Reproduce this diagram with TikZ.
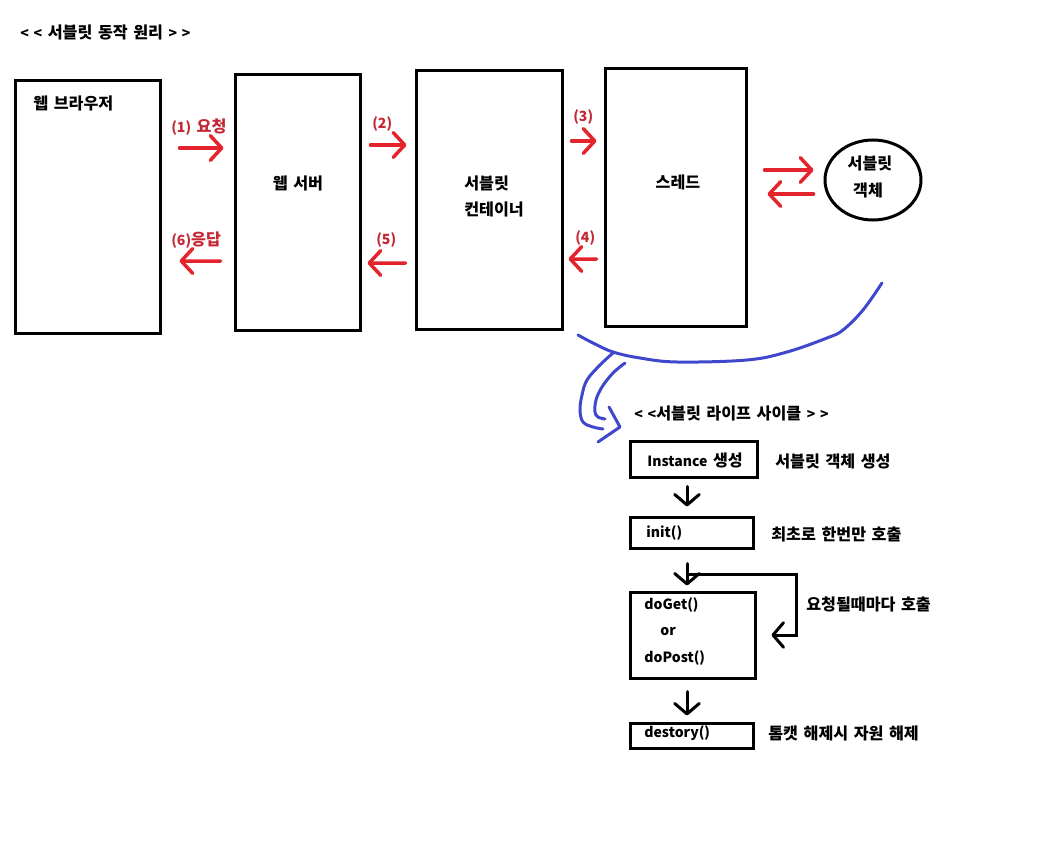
\documentclass[tikz,border=0pt]{standalone}
\usepackage{fontspec}
\setmainfont{Noto Sans CJK KR}[Ligatures=TeXOff, WordSpace=1.5]
\usetikzlibrary{arrows.meta,shapes.geometric,calc}

\newdimen\pxUnit \pxUnit=0.02cm
\newcommand\lat[1]{{\fontsize{8}{10}\selectfont #1}}
\definecolor{call red}{RGB}{228,36,44}
\definecolor{label red}{RGB}{196,40,52}
\definecolor{pen blue}{RGB}{63,72,204}
\tikzset{
  box/.style={draw=black, line width=3\pxUnit, inner sep=0pt},
  word/.style={inner sep=0pt, anchor=west, font=\fontsize{9.2}{10}\selectfont\bfseries},
  redword/.style={word, text=label red},
  callarrow/.style={draw=call red, line width=3.5\pxUnit, line cap=round,
    -{Straight Barb[length=6.5pt,width=14pt,round]}},
  steparrow/.style={draw=black, line width=3\pxUnit, line cap=round,
    -{Straight Barb[length=6pt,width=14pt,round]}},
  pen/.style={draw=pen blue, line width=3\pxUnit, line cap=round, line join=round}
  }

\begin{document}
\begin{tikzpicture}[x=\pxUnit, y=-\pxUnit]
  \useasboundingbox (0,0) rectangle (1042,848);

  % servlet flow
  \foreach \pos/\w/\h/\name in {{(87.5,207)/145/252/browser}, {(297.5,202.5)/125/255/server},
      {(489,200)/146/258/container}, {(675.5,197.5)/141/257/thread}} {
    \node[box, minimum width=\w\pxUnit, minimum height=\h\pxUnit] (\name) at \pos {};
  }
  \node[box, ellipse, minimum width=96\pxUnit, minimum height=80\pxUnit] (servlet) at (873,180) {};

  \node[word] (flowtitle) at (20,32) {\lat{< <} 서블릿 동작 원리 \lat{> >}};
  \node[word] (browsertext) at (33,103) {웹 브라우저};
  \node[word, anchor=center] (servertext) at (298,183) {웹 서버};
  \node[word] (containertext) at (464,183) {서블릿};
  \node[word] (containertext2) at (464,209) {컨테이너};
  \node[word, anchor=center] (threadtext) at (678,182) {스레드};
  \node[word, anchor=center] (servlettext) at (870,163) {서블릿};
  \node[word, anchor=center] (servlettext2) at (868,190) {객체};

  \foreach \pos/\txt/\name in {{(171,127)/\lat{(1)} 요청/req}, {(372,124)/\lat{(2)}/two}, {(573,117)/\lat{(3)}/three},
      {(575,238)/\lat{(4)}/four}, {(376,240)/\lat{(5)}/five}, {(171,240)/\lat{(6)}응답/resp}} {
    \node[redword] (\name) at \pos {\txt};
  }

  \foreach \a/\ad/\b/\bd in {browser.east/{18,-59}/server.west/{-10,-54.5},
      server.east/{9,-57.5}/container.west/{-8,-55},
      container.east/{8,-59}/thread.west/{-7,-56.5},
      thread.west/{-7,61.5}/container.east/{5,59},
      container.west/{-9,63}/server.east/{6,60.5},
      server.west/{-13,58.5}/browser.east/{18,54},
      thread.east/{17,-27.5}/servlet.west/{-10,-10},
      servlet.west/{-10,14}/thread.east/{20,-3.5}} {
    \draw[callarrow] ($(\a)+(\ad)$) -- ($(\b)+(\bd)$);
  }

  % hand drawn hint towards the life cycle
  \draw[pen] plot[smooth, tension=0.6] coordinates {(578,335) (593,343) (613,352) (640,358) (677,362)
    (747,360) (787,352) (827,338) (843,330) (863,310) (882,283)};
  \draw[pen] plot[smooth, tension=0.6] coordinates {(613,353) (600,365) (587,380) (582,395) (580,410)
    (583,422) (593,427) (603,429)};
  \draw[pen] plot[smooth, tension=0.6] coordinates {(625,363) (613,373) (602,387) (596,400) (595,412)
    (598,417) (605,419)};
  \draw[pen] (609,407) -- (620,427) -- (598,442);

  % life cycle
  \node[word] (cycletitle) at (634,413) {\lat{< <}서블릿 라이프 사이클 \lat{> >}};
  \foreach \pos/\w/\h/\name in {{(693.5,459)/127/36/inst}, {(691.5,532.5)/123/31/init},
      {(692.5,635)/125/86/doget}, {(691.5,735.5)/123/25/destroy}} {
    \node[box, minimum width=\w\pxUnit, minimum height=\h\pxUnit] (\name) at \pos {};
  }
  \foreach \pos/\txt/\name in {{(647,460)/\lat{Instance} 생성/insttext}, {(646,533)/\lat{init()}/inittext},
      {(644,605)/\lat{doGet()}/gettext}, {(660,631)/\lat{or}/ortext}, {(644,658)/\lat{doPost()}/posttext},
      {(644,733)/\lat{destory()}/destroytext}, {(775,461)/서블릿 객체 생성/instnote},
      {(771,534)/최초로 한번만 호출/initnote}, {(806,604)/요청될때마다 호출/servicenote},
      {(768,733)/톰캣 해제시 자원 해제/destroynote}} {
    \node[word] (\name) at \pos {\txt};
  }

  \draw[steparrow] ($(inst.south)+(-6.5,8)$) -- ($(init.north)+(-4.5,-9)$);
  \draw[steparrow] ($(init.south)+(-4.5,14)$) -- ($(doget.north)+(-5.5,-5)$);
  \coordinate (loopstart) at ($(init.south)+(-4.5,25)$);
  \draw[steparrow, line cap=butt] (loopstart) -| ($(doget.east)+(40,0)$) -- ($(doget.east)+(15,0)$);
  \draw[steparrow] ($(doget.south)+(-5.5,12)$) -- ($(destroy.north)+(-4.5,-6)$);

\end{tikzpicture}
\end{document}
